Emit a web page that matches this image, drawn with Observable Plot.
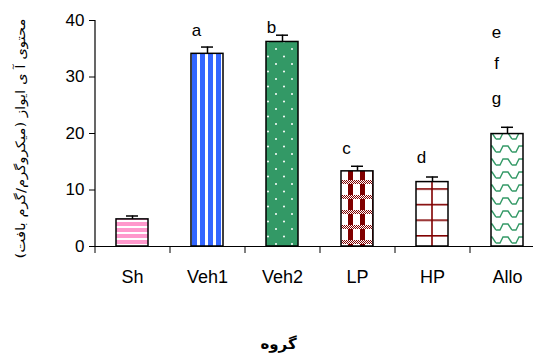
<!DOCTYPE html>
<html><head><meta charset="utf-8">
<script src="https://cdn.jsdelivr.net/npm/d3@7"></script>
<script src="https://cdn.jsdelivr.net/npm/@observablehq/plot@0.6"></script>
<style>body{margin:0;background:#fff;overflow:hidden}</style>
</head><body><div id="chart"></div>
<script>
const groups = ["Sh", "Veh1", "Veh2", "LP", "HP", "Allo"];
const means = [4.8, 34.1, 36.2, 13.3, 11.4, 19.9];
const errors = [0.6, 1.2, 1.2, 0.9, 0.9, 1.2];
const patternIds = ["pSh", "pVeh1", "pVeh2", "pLP", "pHP", "pAllo"];
const letterGroups = ["Veh1", "Veh2", "LP", "HP", "Allo", "Allo", "Allo"];
const letters = ["a", "b", "c", "d", "e", "f", "g"];
const letterValues = [38.2, 38.8, 17.3, 15.8, 37.9, 32.4, 26.2];
const yTicks = [0, 10, 20, 30, 40];
const yLabel = "محتوی آ ی ایواز (میکروگرم/گرم بافت)";
const xLabel = "گروه";

const data = groups.map((g, i) => ({group: g, mean: means[i], err: errors[i], fill: `url(#${patternIds[i]})`}));
const letterData = letters.map((l, i) => ({group: letterGroups[i], letter: l, y: letterValues[i]}));

const xRange = [95, 545];
const step = (xRange[1] - xRange[0]) / groups.length;
const font = "'Liberation Sans', Arial, sans-serif";

const plot = Plot.plot({
  width: 533, height: 360,
  marginTop: 20, marginBottom: 114, marginLeft: 95, marginRight: 0,
  style: {fontFamily: font, fontSize: "16px", color: "#000", background: "#fff"},
  x: {domain: groups, range: xRange, paddingInner: 0.573, paddingOuter: 0.2865},
  y: {domain: [0, 40]},
  color: {type: "identity"},
  marks: [
    Plot.barY(data, {x: "group", y: "mean", fill: "fill", stroke: "#000", strokeWidth: 1.5}),
    Plot.ruleX(data, {x: "group", y1: "mean", y2: d => d.mean + d.err, stroke: "#000", strokeWidth: 1.5}),
    Plot.tickY(data, {x: "group", y: d => d.mean + d.err, stroke: "#000", strokeWidth: 1.5, insetLeft: 10, insetRight: 10}),
    Plot.ruleY([0], {stroke: "#000", strokeWidth: 1.2}),
    Plot.ruleX(groups.slice(0, 1), {x: d => d, dx: -step / 2, y1: 0, y2: 40, stroke: "#000", strokeWidth: 1.2}),
    Plot.ruleX(groups, {x: d => d, dx: -step / 2, y1: 0, y2: 0, insetBottom: -7, stroke: "#000", strokeWidth: 1}),
    Plot.axisY({ticks: yTicks, tickSize: 6, tickPadding: 5, fontSize: 17, label: null}),
    Plot.axisX({tickSize: 0, tickPadding: 24, fontSize: 18, label: null}),
    Plot.text(letterData, {x: "group", y: "y", text: "letter", dx: -11, fontSize: 17}),
    Plot.text([yLabel], {frameAnchor: "left", textAnchor: "middle", dx: -75, dy: 5, rotate: -90, fontSize: 13, fontFamily: "'DejaVu Sans', sans-serif"}),
    Plot.text([xLabel], {frameAnchor: "bottom", dx: -36, dy: 102, fontSize: 15, fontWeight: "bold", fontFamily: "'DejaVu Sans', sans-serif"})
  ]
});

const svg = d3.select(plot);
// fit the long rotated label into the height it takes in the reference
svg.selectAll("text").filter(function() { return this.textContent === yLabel; })
  .attr("text-anchor", "middle").attr("textLength", 240).attr("lengthAdjust", "spacingAndGlyphs");

// Pattern fills
const defs = svg.insert("defs", ":first-child");
const green = "#339966", maroon = "#800000";
// Sh: pink horizontal stripes
let p = defs.append("pattern").attr("id", "pSh").attr("patternUnits", "userSpaceOnUse").attr("width", 6).attr("height", 6);
p.append("rect").attr("width", 6).attr("height", 6).attr("fill", "#ff99cc");
p.append("rect").attr("y", 4).attr("width", 6).attr("height", 2).attr("fill", "#fff");
// Veh1: blue vertical stripes
p = defs.append("pattern").attr("id", "pVeh1").attr("patternUnits", "userSpaceOnUse").attr("width", 8).attr("height", 8);
p.append("rect").attr("width", 8).attr("height", 8).attr("fill", "#3366ff");
p.append("rect").attr("x", 5).attr("width", 3).attr("height", 8).attr("fill", "#fff");
// Veh2: green with white dots
p = defs.append("pattern").attr("id", "pVeh2").attr("patternUnits", "userSpaceOnUse").attr("width", 16).attr("height", 15);
p.append("rect").attr("width", 16).attr("height", 15).attr("fill", green);
p.append("circle").attr("cx", 4).attr("cy", 4).attr("r", 1).attr("fill", "#fff");
p.append("circle").attr("cx", 12).attr("cy", 11.5).attr("r", 1).attr("fill", "#fff");
// LP: maroon plaid
p = defs.append("pattern").attr("id", "pLP").attr("patternUnits", "userSpaceOnUse").attr("width", 12).attr("height", 15);
p.append("rect").attr("width", 12).attr("height", 15).attr("fill", "#fff");
p.append("rect").attr("x", 0).attr("width", 5).attr("height", 15).attr("fill", maroon);
p.append("rect").attr("y", 0).attr("width", 12).attr("height", 4).attr("fill", "#fff");
for (let yy = 0; yy < 4; yy++) for (let xx = 0; xx < 12; xx++) if ((xx + yy) % 2 === 0) p.append("rect").attr("x", xx).attr("y", yy).attr("width", 1).attr("height", 1).attr("fill", maroon);
// HP: white with maroon grid
const xs = plot.scale("x"), ys = plot.scale("y");
p = defs.append("pattern").attr("id", "pHP").attr("patternUnits", "userSpaceOnUse")
  .attr("x", xs.apply("HP")).attr("y", ys.apply(0) - 11).attr("width", xs.bandwidth).attr("height", 15.6);
p.append("rect").attr("width", xs.bandwidth).attr("height", 15.6).attr("fill", "#fff");
p.append("rect").attr("y", 0).attr("width", xs.bandwidth).attr("height", 1.6).attr("fill", maroon);
p.append("rect").attr("x", xs.bandwidth / 2 - 0.8).attr("width", 1.6).attr("height", 15.6).attr("fill", maroon);
// Allo: green waves
p = defs.append("pattern").attr("id", "pAllo").attr("patternUnits", "userSpaceOnUse").attr("width", 16).attr("height", 13);
p.append("rect").attr("width", 16).attr("height", 13).attr("fill", "#fff");
p.append("path").attr("d", "M0,9 L4,9 L7,3 L12,3 L16,9").attr("fill", "none").attr("stroke", green).attr("stroke-width", 1.4);

document.getElementById("chart").appendChild(plot);
</script>
</body></html>
